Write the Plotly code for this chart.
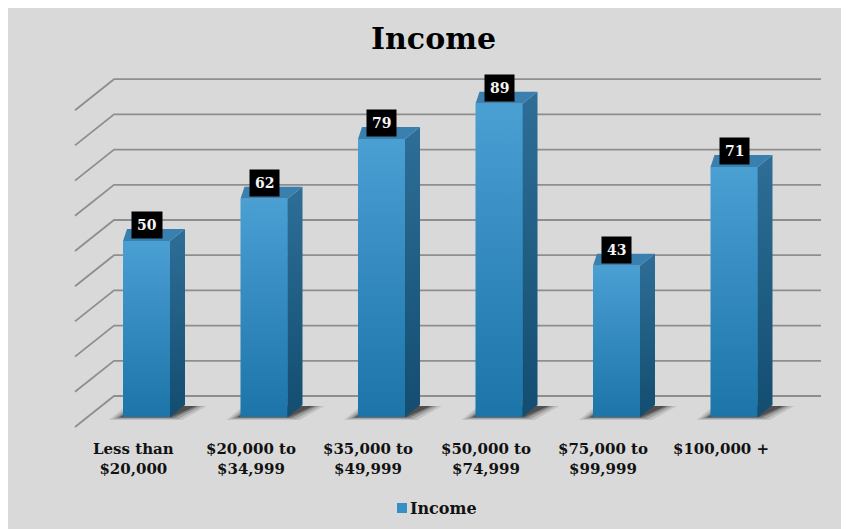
import plotly.graph_objects as go

# ---------------- data ----------------
categories = ["Less than<br>$20,000", "$20,000 to<br>$34,999", "$35,000 to<br>$49,999",
              "$50,000 to<br>$74,999", "$75,000 to<br>$99,999", "$100,000 +"]
values = [50, 62, 79, 89, 43, 71]
grid_values = [0, 10, 20, 30, 40, 50, 60, 70, 80, 90]
series_name = "Income"
chart_title = "Income"

# ---------------- geometry (window pixels -> data units) ----------------
OFF = 8                      # page body margin
WIN_W, WIN_H = 849, 529
W, H = WIN_W - OFF, WIN_H - OFF
PX_PER_CAT = 117.5
FIRST_CENTER_PX = 146.5 - OFF
PX_PER_UNIT = 3.52
BASE_PX = 417 - OFF

x_range = [-FIRST_CENTER_PX / PX_PER_CAT, (W - FIRST_CENTER_PX) / PX_PER_CAT]
y_range = [(BASE_PX - H) / PX_PER_UNIT, BASE_PX / PX_PER_UNIT]


def dx(p):
    return p / PX_PER_CAT


def dy(p):
    return p / PX_PER_UNIT


def xpx(p):  # window pixel -> x data
    return x_range[0] + dx(p - OFF)


def px_paper_x(p):
    return (p - OFF) / W


def px_paper_y(p):
    return 1 - (p - OFF) / H


BAR_W = 0.4
DEPTH_X = dx(15)
DEPTH_Y = dy(12)
WALL_DY = dy(21)          # back wall vertical offset
FRONT_DY = -dy(10)        # front edge of side wall
WALL_L, WALL_R, WALL_FRONT = xpx(114), xpx(821), xpx(75)

FONT = "DejaVu Serif"
GRID_COLOR = "#8e8e8e"

fig = go.Figure()
xs = list(range(len(categories)))

# back wall gridlines
for g in grid_values:
    fig.add_trace(go.Scatter(x=[WALL_FRONT, WALL_L, WALL_R], y=[g + FRONT_DY, g + WALL_DY, g + WALL_DY],
                             mode="lines", line=dict(color=GRID_COLOR, width=1.8),
                             hoverinfo="skip", showlegend=False))

# base bar trace (front faces)
fig.add_trace(go.Bar(x=xs, y=values, width=BAR_W, name=series_name,
                     marker=dict(color="#2f88bf", line=dict(width=0)), showlegend=False))

# soft shadows
for i, v in enumerate(values):
    fl, fr = i - BAR_W / 2, i + BAR_W / 2
    for k, a in [(12, 0.10), (8, 0.16), (4, 0.26), (1, 0.34)]:
        fig.add_trace(go.Scatter(
            x=[fl - dx(k + 2), fr + dx(k), fr + DEPTH_X + dx(k + 10), fl + DEPTH_X - dx(k), fl - dx(k + 2)],
            y=[-dy(k * 0.25), -dy(k * 0.25), DEPTH_Y - dy(1), DEPTH_Y - dy(1), -dy(k * 0.25)],
            fill="toself", fillcolor=f"rgba(0,0,0,{a})", mode="lines", line=dict(width=0),
            hoverinfo="skip", showlegend=False))

# 3D faces
for i, v in enumerate(values):
    fl, fr = i - BAR_W / 2, i + BAR_W / 2
    # side face
    fig.add_trace(go.Scatter(
        x=[fr, fr + DEPTH_X, fr + DEPTH_X, fr, fr], y=[0, DEPTH_Y, v + DEPTH_Y, v, 0],
        fill="toself", mode="lines", line=dict(width=0),
        fillgradient=dict(type="vertical", colorscale=[[0, "#134d70"], [1, "#2e6e97"]]),
        hoverinfo="skip", showlegend=False))
    # top face
    fig.add_trace(go.Scatter(
        x=[fl, fr, fr + DEPTH_X, fl + dx(4), fl], y=[v, v, v + DEPTH_Y, v + DEPTH_Y, v],
        fill="toself", fillcolor="#3a80ae", mode="lines", line=dict(width=0),
        hoverinfo="skip", showlegend=False))
    # front face gradient
    fig.add_trace(go.Scatter(
        x=[fl, fr, fr, fl, fl], y=[0, 0, v, v, 0],
        fill="toself", mode="lines", line=dict(width=0),
        fillgradient=dict(type="vertical", colorscale=[[0, "#1c74a9"], [1, "#4a9fd3"]]),
        hoverinfo="skip", showlegend=False))

annotations = []
# value labels
for i, v in enumerate(values):
    annotations.append(dict(x=i, y=v, xref="x", yref="y", text=str(v), showarrow=False,
                            yanchor="bottom", yshift=2, bgcolor="#000000", borderpad=5,
                            font=dict(family=FONT, size=14, color="#f4f4f4", weight="bold")))
# category labels
for i, c in enumerate(categories):
    annotations.append(dict(x=i - dx(13.5), y=-dy(21), xref="x", yref="y", text=c, showarrow=False,
                            yanchor="top", align="center",
                            font=dict(family=FONT, size=15, color="#111111", weight="bold")))
# legend text
annotations.append(dict(x=px_paper_x(408), y=px_paper_y(508), xref="paper", yref="paper", text=series_name,
                        showarrow=False, xanchor="left", yanchor="middle",
                        font=dict(family=FONT, size=16, color="#111111", weight="bold")))

shapes = [
    dict(type="rect", xref="paper", yref="paper", x0=px_paper_x(397), x1=px_paper_x(407),
         y0=px_paper_y(513), y1=px_paper_y(503), fillcolor="#3590c8", line=dict(width=0)),
]

fig.update_layout(
    width=W, height=H, margin=dict(l=0, r=0, t=0, b=0),
    paper_bgcolor="#d9d9d9", plot_bgcolor="rgba(0,0,0,0)",
    title=dict(text=chart_title, x=px_paper_x(433.5), xanchor="center", y=px_paper_y(38), yanchor="middle",
               font=dict(family=FONT, size=30, color="#000000", weight="bold")),
    xaxis=dict(range=x_range, visible=False, fixedrange=True),
    yaxis=dict(range=y_range, visible=False, fixedrange=True),
    showlegend=False, annotations=annotations, shapes=shapes, bargap=0,
)

fig.write_html("out.html")
